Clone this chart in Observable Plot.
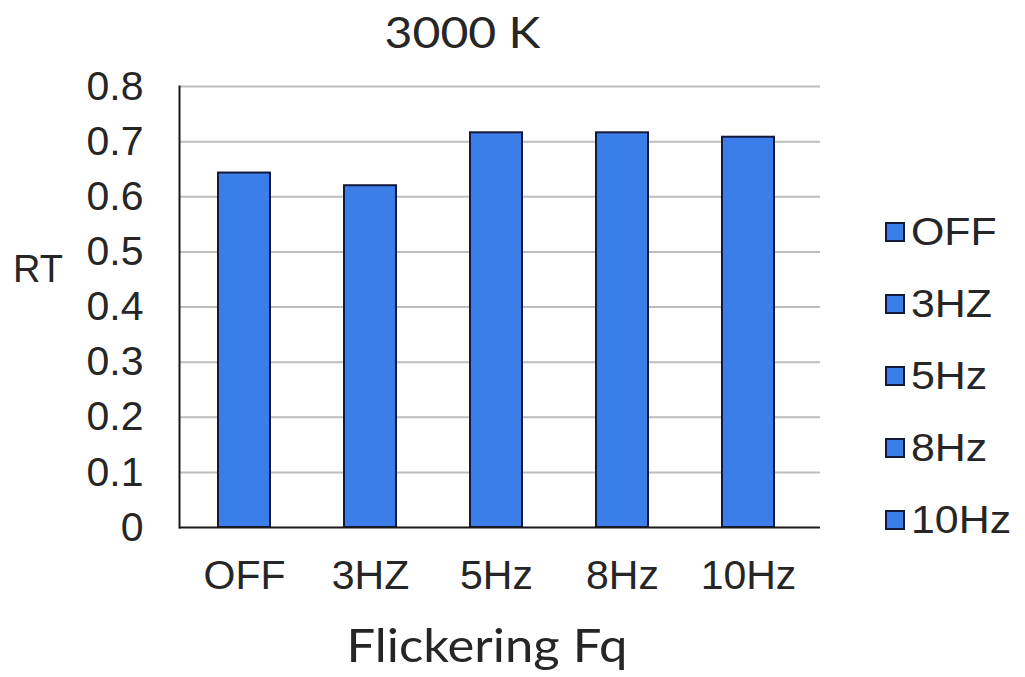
<!DOCTYPE html>
<html>
<head>
<meta charset="utf-8">
<script src="https://cdn.jsdelivr.net/npm/d3@7"></script>
<script src="https://cdn.jsdelivr.net/npm/@observablehq/plot@0.6"></script>
<style>
  html, body { margin: 0; padding: 0; background: #fff; }
  #chart { position: relative; width: 1025px; height: 677px; overflow: hidden; }
  #chart svg { position: absolute; left: 0; top: 0; }
  .txt { position: absolute; color: #262626; white-space: nowrap; }
  .title { font-family: Lato, "Open Sans", sans-serif; font-size: 43px; left: 0; width: 925px; text-align: center; top: 6px; transform: scaleX(1.12); transform-origin: 462px 0; }
  .xlabel { font-family: Lato, "Open Sans", sans-serif; font-size: 47px; left: 169px; width: 636px; text-align: center; top: 616px; transform: scaleX(1.08); transform-origin: 318px 0; }
  .ylabel { font-family: "Liberation Sans", Arial, sans-serif; font-size: 38px; left: 13px; top: 248px; }
  .legend { position: absolute; left: 885px; top: 196px; font-family: "Liberation Sans", Arial, sans-serif; font-size: 39px; color: #262626; }
  .legend .item { display: flex; align-items: center; height: 72px; }
  .legend .item span { display: inline-block; transform: scaleX(1.1); transform-origin: 0 0; }
  .legend .sw { width: 20px; height: 20px; box-sizing: border-box; border: 2px solid #14183a; margin-right: 6px; }
</style>
</head>
<body>
<div id="chart"></div>
<script>
// Reaction time by flickering frequency, 3000 K condition
const categories = ["OFF", "3HZ", "5Hz", "8Hz", "10Hz"];
const rtValues = [0.643, 0.62, 0.716, 0.716, 0.708];
const yTicks = [0, 0.1, 0.2, 0.3, 0.4, 0.5, 0.6, 0.7, 0.8];
const titleText = "3000 K";
const xTitle = "Flickering Fq";
const yTitle = "RT";

const barFill = "#3b7ee9";
const barStroke = "#14183a";

const data = categories.map((c, i) => ({cat: c, rt: rtValues[i]}));

const chart = Plot.plot({
  width: 1025,
  height: 677,
  marginLeft: 179,
  marginRight: 213,
  marginTop: 86,
  marginBottom: 150,
  style: {background: "transparent", color: "#262626"},
  x: {domain: categories, paddingInner: 0.59, paddingOuter: 0.295, label: null},
  y: {domain: [0, 0.8], label: null},
  marks: [
    // horizontal gridlines run slightly past the last category
    Plot.ruleY(yTicks.slice(1), {stroke: "#bdbdbd", strokeWidth: 2, insetRight: -8}),
    Plot.barY(data, {x: "cat", y: "rt", fill: barFill, stroke: barStroke, strokeWidth: 2}),
    Plot.axisY({
      ticks: yTicks,
      tickSize: 0,
      tickPadding: 36,
      tickFormat: d => d === 0 ? "0" : d.toFixed(1),
      fontSize: 41,
      fontFamily: "Liberation Sans, Arial, sans-serif",
      label: null
    }),
    Plot.axisX({
      tickSize: 0,
      tickPadding: 32,
      fontSize: 41,
      fontFamily: "Liberation Sans, Arial, sans-serif",
      label: null
    }),
    Plot.frame({anchor: "left", stroke: "#1a1a1a", strokeWidth: 2}),
    Plot.ruleY([0], {stroke: "#1a1a1a", strokeWidth: 2, insetRight: -8})
  ]
});

const root = document.getElementById("chart");
root.appendChild(chart);

function addText(cls, text) {
  const d = document.createElement("div");
  d.className = "txt " + cls;
  d.textContent = text;
  root.appendChild(d);
}
addText("title", titleText);
addText("xlabel", xTitle);
addText("ylabel", yTitle);

// Series legend: one swatch per frequency
const legend = document.createElement("div");
legend.className = "legend";
categories.forEach(c => {
  const item = document.createElement("div");
  item.className = "item";
  const sw = document.createElement("div");
  sw.className = "sw";
  sw.style.background = barFill;
  const lab = document.createElement("span");
  lab.textContent = c;
  item.appendChild(sw);
  item.appendChild(lab);
  legend.appendChild(item);
});
root.appendChild(legend);
</script>
</body>
</html>
